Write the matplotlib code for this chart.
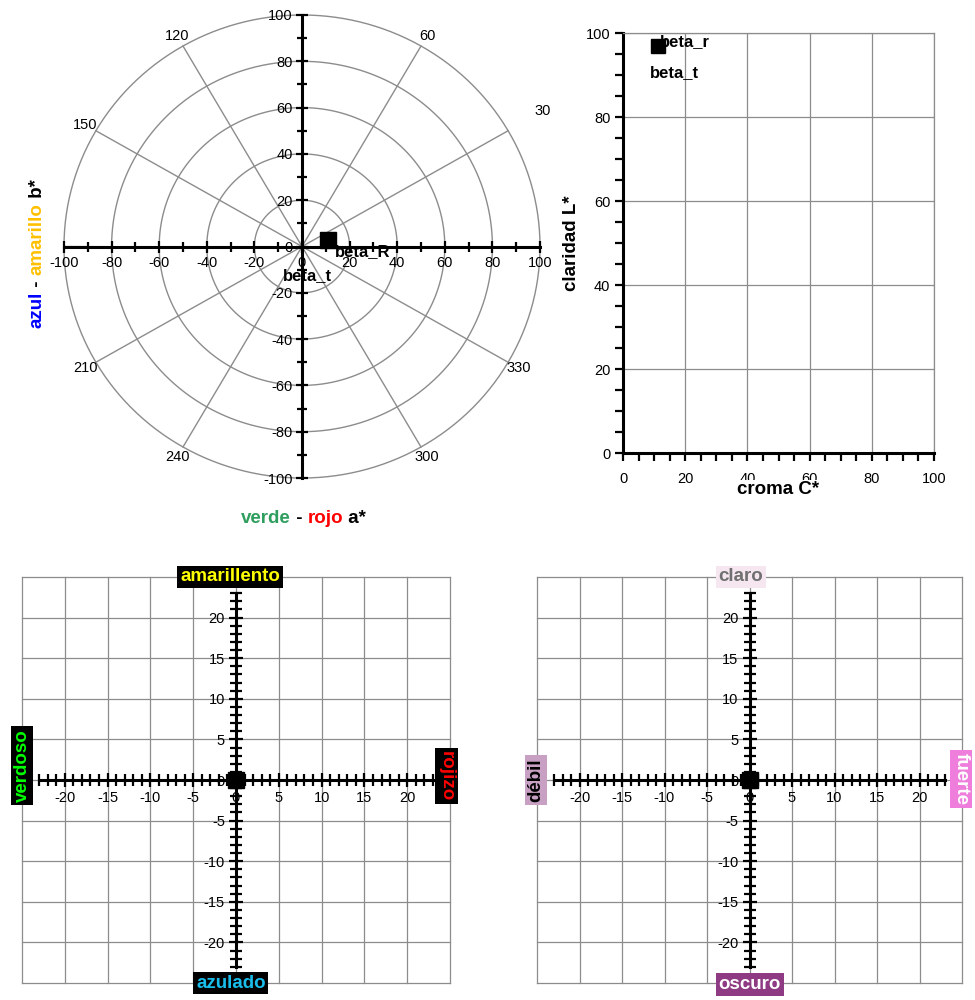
import numpy as np
import matplotlib
matplotlib.use("Agg")
import matplotlib.pyplot as plt
from matplotlib.ticker import MultipleLocator, FixedLocator
from matplotlib.transforms import IdentityTransform

plt.rcParams['font.family'] = ['Liberation Sans', 'DejaVu Sans']
plt.rcParams['axes.unicode_minus'] = False

# ---- colour coordinates of the sample ----
sample_name = 'beta_R'
sample_lc_name = 'beta_r'
ref_name = 'beta_t'
a_star = [11.0]
b_star = [3.0]
L_star = [97.0]
C_star = [11.4]

# differences sample - reference
delta_a = [0.0]
delta_b = [0.0]
delta_C = [0.0]
delta_L = [0.0]

ring_radii = [20, 40, 60, 80, 100]
spoke_angles = [0, 30, 60, 90, 120, 150, 180, 210, 240, 270, 300, 330]
angle_labels = [30, 60, 120, 150, 210, 240, 300, 330]

W, H = 975, 1000
fig = plt.figure(figsize=(W / 100, H / 100), dpi=100)
GRID = '#8c8c8c'
TICK_FS = 10.5


def px_axes(left, top, right, bottom):
    return fig.add_axes([left / W, 1 - bottom / H, (right - left) / W, (bottom - top) / H])


def multicolor(parts, x, y, rotation=0, size=13.5, weight='bold'):
    """Write consecutive coloured pieces; x,y is the start of the baseline in image pixels."""
    renderer = fig.canvas.get_renderer()
    texts = []
    for s, c in parts:
        t = fig.text(0, 0, s, color=c, fontsize=size, fontweight=weight,
                     rotation=rotation, rotation_mode='anchor',
                     ha='left', va='baseline', transform=IdentityTransform())
        texts.append(t)
    cx, cy = x, H - y
    for t in texts:
        t.set_position((cx, cy))
        bb = t.get_window_extent(renderer)
        if rotation == 0:
            cx += bb.width
        else:
            cy += bb.height
    return texts


# ================= a*, b* polar diagram =================
ax = px_axes(64, 15, 540, 478)
ax.set_xlim(-100, 100)
ax.set_ylim(-100, 100)
t = np.linspace(0, 2 * np.pi, 361)
for r in ring_radii:
    ax.plot(r * np.cos(t), r * np.sin(t), color=GRID, lw=1.0, clip_on=False, zorder=1)
for ang in spoke_angles:
    th = np.deg2rad(ang)
    ax.plot([0, 100 * np.cos(th)], [0, 100 * np.sin(th)], color=GRID, lw=1.0, zorder=1)
for ang in angle_labels:
    th = np.deg2rad(ang)
    r = 117 if ang == 30 else 105
    ax.text(r * np.cos(th), r * np.sin(th), str(ang), fontsize=TICK_FS,
            ha='center', va='center')

for side in ['top', 'right']:
    ax.spines[side].set_visible(False)
for side in ['left', 'bottom']:
    ax.spines[side].set_position('zero')
    ax.spines[side].set_linewidth(2.2)
    ax.spines[side].set_zorder(3)
ax.xaxis.set_major_locator(MultipleLocator(20))
ax.yaxis.set_major_locator(MultipleLocator(20))
ax.xaxis.set_minor_locator(MultipleLocator(10))
ax.yaxis.set_minor_locator(MultipleLocator(10))
ax.tick_params(which='major', direction='inout', length=9, width=1.6, labelsize=TICK_FS, pad=2)
ax.tick_params(which='minor', direction='inout', length=7, width=1.6)
ax.patch.set_alpha(0)

ax.plot(a_star, b_star, 's', color='black', ms=11, zorder=5, clip_on=False)
ax.text(a_star[0] + 3, b_star[0] - 2, sample_name, fontsize=12, fontweight='bold',
        ha='left', va='top', zorder=6)
ax.text(2.5, -12.5, ref_name, fontsize=12, fontweight='bold', ha='center', va='center', zorder=6)

multicolor([('verde', '#2e9e5e'), (' - ', 'black'), ('rojo', '#ff0000'), (' a*', 'black')],
           241, 523)
multicolor([('azul', '#0000ff'), (' - ', 'black'), ('amarillo', '#ffc000'), (' b*', 'black')],
           42, 328, rotation=90)

# ================= L* vs C* =================
ax2 = px_axes(623, 33, 934, 453)
ax2.set_xlim(0, 100)
ax2.set_ylim(0, 100)
ax2.xaxis.set_major_locator(MultipleLocator(20))
ax2.yaxis.set_major_locator(MultipleLocator(20))
ax2.xaxis.set_minor_locator(MultipleLocator(5))
ax2.yaxis.set_minor_locator(MultipleLocator(5))
ax2.grid(True, which='major', color=GRID, lw=0.9)
for side in ['top', 'right']:
    ax2.spines[side].set_color(GRID)
    ax2.spines[side].set_linewidth(0.9)
for side in ['left', 'bottom']:
    ax2.spines[side].set_linewidth(2.2)
ax2.tick_params(which='both', direction='out', length=6, width=1.6, labelsize=TICK_FS)
ax2.tick_params(axis='x', which='major', pad=8)
ax2.tick_params(axis='y', which='major', pad=3)
ax2.plot(C_star, L_star, 's', color='black', ms=10, zorder=5, clip_on=False)
ax2.text(C_star[0] + 0.4, L_star[0] + 1.0, sample_lc_name, fontsize=12, fontweight='bold',
         ha='left', va='center', zorder=6)
ax2.text(16.7, 90.5, ref_name, fontsize=12, fontweight='bold', ha='center', va='center', zorder=6)
ax2.set_xlabel('croma C*', fontsize=13.5, fontweight='bold', labelpad=-4,
               bbox=dict(facecolor='white', edgecolor='none', pad=1))
ax2.set_ylabel('claridad L*', fontsize=13.5, fontweight='bold', labelpad=4)


# ================= difference diagrams =================
def diff_axes(left, right, xs, ys, labels):
    axd = px_axes(left, 577, right, 983)
    axd.set_xlim(-25, 25)
    axd.set_ylim(-25, 25)
    for v in np.arange(-25, 26, 5):
        axd.axvline(v, color=GRID, lw=0.9, zorder=0, clip_on=False)
        axd.axhline(v, color=GRID, lw=0.9, zorder=0, clip_on=False)
    for side in ['top', 'right']:
        axd.spines[side].set_visible(False)
    for side in ['left', 'bottom']:
        axd.spines[side].set_position('zero')
        axd.spines[side].set_linewidth(2.2)
        axd.spines[side].set_bounds(-23, 23)
    major = np.arange(-20, 21, 5)
    minor = np.arange(-23, 24, 1)
    axd.xaxis.set_major_locator(FixedLocator(major))
    axd.yaxis.set_major_locator(FixedLocator(major))
    axd.xaxis.set_minor_locator(FixedLocator(minor))
    axd.yaxis.set_minor_locator(FixedLocator(minor))
    axd.tick_params(which='major', direction='inout', length=10, width=1.6,
                    labelsize=TICK_FS, pad=3)
    axd.tick_params(which='minor', direction='inout', length=8, width=1.6)
    axd.plot(xs, ys, 's', color='black', ms=11, zorder=5)
    for (txt, x, y, fc, tc, rot) in labels:
        axd.text(x, y, txt, fontsize=13.5, fontweight='bold', color=tc, rotation=rot,
                 ha='center', va='center', zorder=7,
                 bbox=dict(boxstyle='square,pad=0.15', facecolor=fc, edgecolor='none'))
    return axd


diff_axes(22, 450, delta_a, delta_b, [
    ('amarillento', -0.7, 25, 'black', '#ffff00', 0),
    ('azulado', -0.6, -25, 'black', '#19bdeb', 0),
    ('verdoso', -25, 1.8, 'black', '#00ff00', 90),
    ('rojizo', 24.6, 0.5, 'black', '#ff0000', -90),
])
diff_axes(537, 962, delta_C, delta_L, [
    ('claro', -1.0, 25, '#f5e6f0', '#707070', 0),
    ('oscuro', 0.0, -25.2, '#8e3b84', 'white', 0),
    ('débil', -25.1, 0.0, '#c8a0c4', 'black', 90),
    ('fuerte', 24.9, 0.1, '#ee7ddc', 'white', -90),
])

fig.savefig('out.png', dpi=100)
